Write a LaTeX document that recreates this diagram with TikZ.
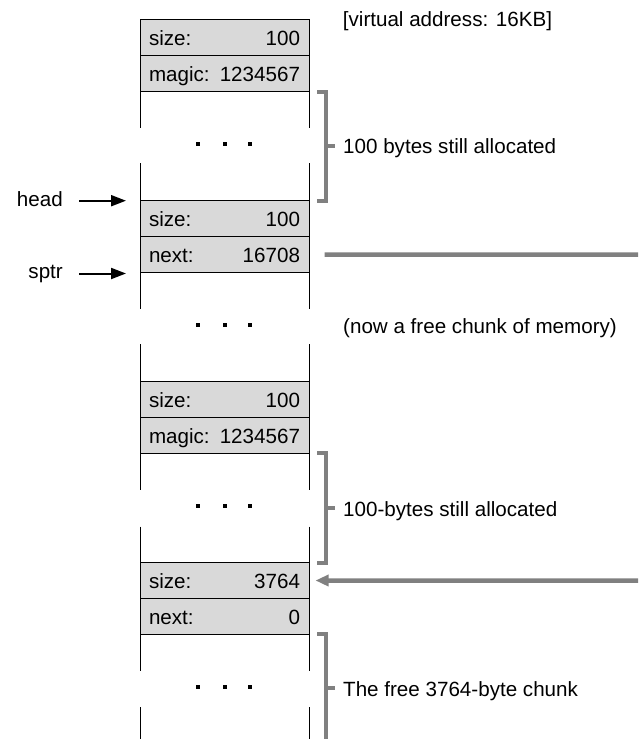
\documentclass[tikz,border=0pt]{standalone}
\usepackage{fontspec}
\setmainfont{Liberation Sans}
\usetikzlibrary{arrows.meta}
\definecolor{rowgray}{RGB}{217,217,217}
\definecolor{lngray}{RGB}{128,128,128}
\begin{document}
\begin{tikzpicture}[x=1pt,y=-1pt,
  every node/.style={font=\fontsize{20.6}{24}\selectfont},
  memrow/.style={draw=black,line width=1pt,fill=rowgray,minimum width=169pt,minimum height=36pt,
    text width=151pt,inner xsep=9pt,inner ysep=0pt,text height=15pt,text depth=0pt},
  wall/.style={draw=black,line width=1pt},
  memdot/.style={fill=black,minimum size=4.3pt,inner sep=0pt},
  brace/.style={draw=lngray,line width=4pt},
  outlbl/.style={anchor=base west,inner sep=0pt},
  ptrarrow/.style={draw=black,line width=2pt,-{Triangle[length=15pt,width=11pt]}},
  graylink/.style={draw=lngray,line width=4.5pt},
  grayarrow/.style={draw=lngray,line width=4.5pt,-{Triangle[length=13pt,width=11pt]}}
]
\useasboundingbox (0,0) rectangle (638,739);

% column walls in gaps
\foreach \ya/\yb in {91.5/127.7, 163.3/200.7, 272.7/309.3, 344.3/381.5, 453.5/490, 526.7/562.5, 634.5/670.7, 707.3/739}{
  \draw[wall] (140,\ya) -- (140,\yb);
  \draw[wall] (309,\ya) -- (309,\yb);
}

% memory rows
\node[memrow] (a1) at (224.5,37.5) {size:\hfill 100};
\node[memrow] (a2) at (224.5,73.5) {magic:\hfill 1234567};
\node[memrow] (b1) at (224.5,218.7) {size:\hfill 100};
\node[memrow] (b2) at (224.5,254.7) {next:\hfill 16708};
\node[memrow] (c1) at (224.5,399.5) {size:\hfill 100};
\node[memrow] (c2) at (224.5,435.5) {magic:\hfill 1234567};
\node[memrow] (d1) at (224.5,580.5) {size:\hfill 3764};
\node[memrow] (d2) at (224.5,616.5) {next:\hfill 0};

% ellipsis dots
\foreach \y [count=\i] in {144,325,506,687}{
  \node[memdot] (dl\i) at (198.3,\y) {};
  \node[memdot] (dm\i) at (225,\y) {};
  \node[memdot] (dr\i) at (250,\y) {};
}

% brackets
\draw[brace] (317,91.5) -- (326,91.5) -- (326,200.7) -- (317,200.7);
\draw[brace] (326,145.5) -- (335,145.5);
\draw[brace] (317,452.5) -- (326,452.5) -- (326,563) -- (317,563);
\draw[brace] (326,508) -- (335,508);
\draw[brace] (317,633.5) -- (326,633.5) -- (326,739);
\draw[brace] (326,688) -- (335,688);

% labels
\node[outlbl] (virt) at (342.7,26) {[virtual address: 16KB]};
\node[outlbl] (lab1) at (343,153.5) {100 bytes still allocated};
\node[outlbl] (lab2) at (343,333.5) {(now a free chunk of memory)};
\node[outlbl] (lab3) at (343,516) {100-bytes still allocated};
\node[outlbl] (lab4) at (343,696) {The free 3764-byte chunk};

% pointers
\node[anchor=base east,inner sep=0pt] (head) at (63,206.7) {head};
\node[anchor=base east,inner sep=0pt] (sptr) at (63,278.3) {sptr};
\coordinate (headtip) at (126,200.7);
\coordinate (sptrtip) at (126,273.5);
\draw[ptrarrow] (79,200.7) -- (headtip);
\draw[ptrarrow] (79,273.5) -- (sptrtip);

% next pointer link
\coordinate (nextout) at (638,254.5);
\coordinate (nextin) at (638,580.7);
\draw[graylink] ([xshift=15pt]b2.east) -- (nextout);
\draw[grayarrow] (nextin) -- ([xshift=6pt]d1.east);
\end{tikzpicture}
\end{document}
